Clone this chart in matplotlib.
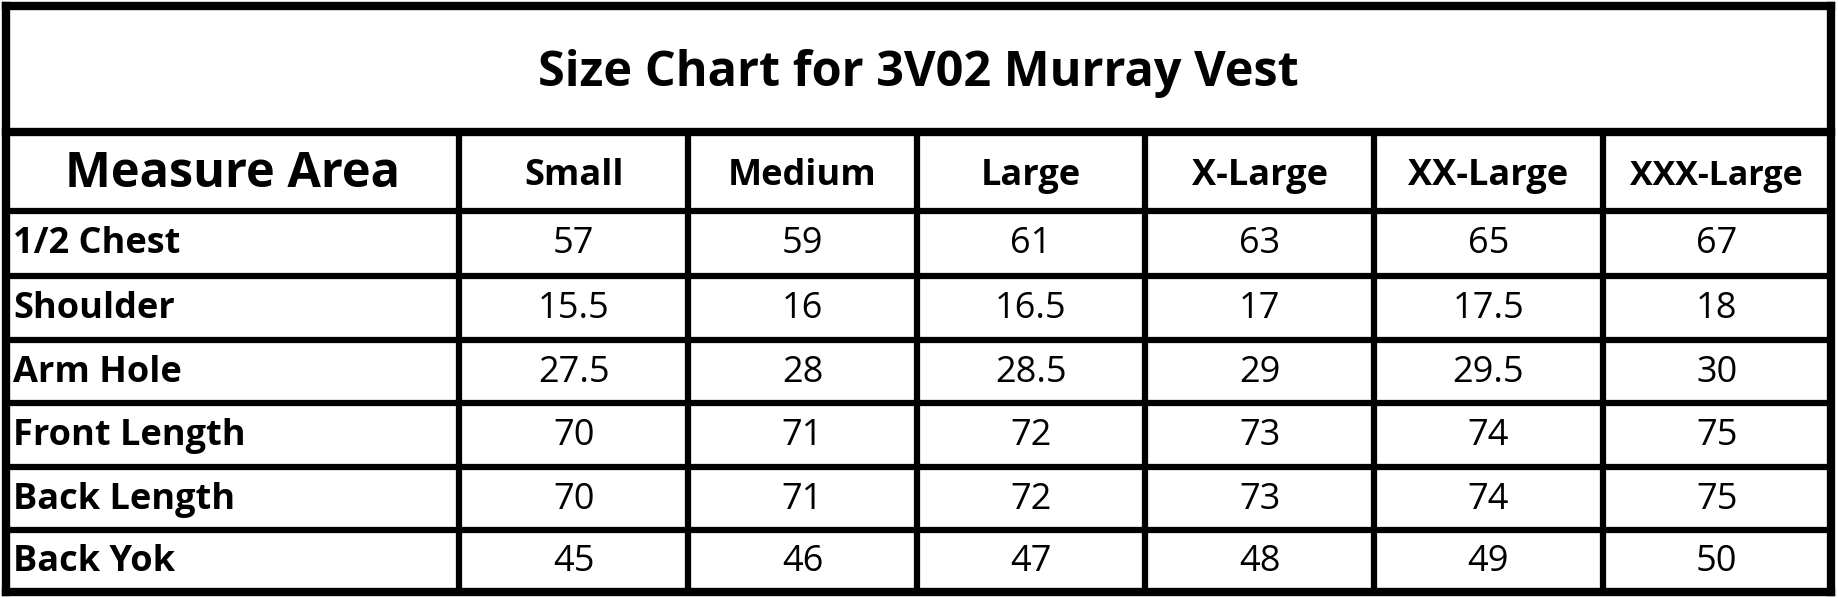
import matplotlib.pyplot as plt

title = "Size Chart for 3V02 Murray Vest"
corner = "Measure Area"
sizes = ["Small", "Medium", "Large", "X-Large", "XX-Large", "XXX-Large"]
areas = ["1/2 Chest", "Shoulder", "Arm Hole", "Front Length", "Back Length", "Back Yok"]
chest = ["57", "59", "61", "63", "65", "67"]
shoulder = ["15.5", "16", "16.5", "17", "17.5", "18"]
arm_hole = ["27.5", "28", "28.5", "29", "29.5", "30"]
front_length = ["70", "71", "72", "73", "74", "75"]
back_length = ["70", "71", "72", "73", "74", "75"]
back_yok = ["45", "46", "47", "48", "49", "50"]
values = [chest, shoulder, arm_hole, front_length, back_length, back_yok]

# layout in reference pixels (1546 x 510 space)
W, H = 1546, 510
col_x = [5, 386, 579, 771, 963, 1156, 1348, 1540]
row_y = [5, 113, 180, 235, 290, 344, 398, 452, 505]

plt.rcParams['font.family'] = ['Open Sans', 'DejaVu Sans']
fig = plt.figure(figsize=(18.38, 5.98), dpi=100)
ax = fig.add_axes([0, 0, 1, 1])
ax.set_xlim(0, W)
ax.set_ylim(H, 0)
ax.axis("off")

lw = 4.5
for y in row_y:
    if y == row_y[0] or y == row_y[-1] or y == row_y[1]:
        ax.plot([col_x[0], col_x[-1]], [y, y], color="black", lw=lw + 1.5, solid_capstyle="projecting")
    else:
        ax.plot([col_x[0], col_x[-1]], [y, y], color="black", lw=lw)
ax.plot([col_x[0], col_x[0]], [row_y[0], row_y[-1]], color="black", lw=lw + 1.5)
ax.plot([col_x[-1], col_x[-1]], [row_y[0], row_y[-1]], color="black", lw=lw + 1.5)
for x in col_x[1:-1]:
    ax.plot([x, x], [row_y[1], row_y[-1]], color="black", lw=lw)

ax.text((col_x[0] + col_x[-1]) / 2, (row_y[0] + row_y[1]) / 2 + 4, title,
        ha="center", va="center", fontsize=35, fontweight="bold")
hy = (row_y[1] + row_y[2]) / 2 + 2
ax.text((col_x[0] + col_x[1]) / 2, hy, corner, ha="center", va="center", fontsize=35, fontweight="bold")
for j, s in enumerate(sizes):
    fs = 24.5 if s == "XXX-Large" else 26
    ax.text((col_x[j + 1] + col_x[j + 2]) / 2, hy + 2, s, ha="center", va="center",
            fontsize=fs, fontweight="bold")
for i, a in enumerate(areas):
    cy = (row_y[i + 2] + row_y[i + 3]) / 2 + 1
    ax.text(col_x[0] + 6, cy, a, ha="left", va="center", fontsize=26, fontweight="bold")
    for j, v in enumerate(values[i]):
        ax.text((col_x[j + 1] + col_x[j + 2]) / 2, cy, v, ha="center", va="center", fontsize=26)

fig.savefig("out.png", dpi=100, facecolor="white")
